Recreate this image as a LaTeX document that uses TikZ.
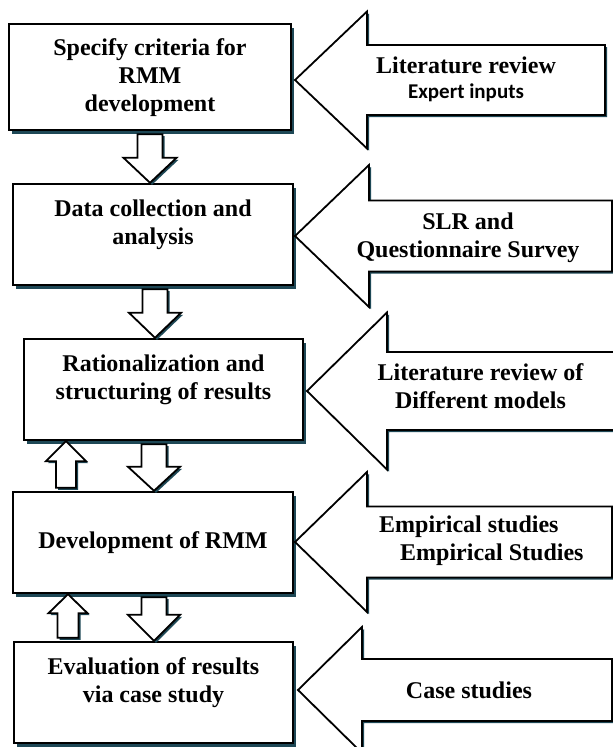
\documentclass[tikz,border=0pt]{standalone}
\usepackage{fontspec}
\setmainfont{Liberation Serif}
\newfontfamily\calibfont{Carlito}
\usetikzlibrary{calc,shadows}
\definecolor{shadowteal}{RGB}{30,72,86}

\begin{document}
\begin{tikzpicture}[x=1pt,y=-1pt,
    txt/.style={font=\fontsize{24}{28}\selectfont\bfseries, align=center, inner sep=0pt},
    stage/.style={draw, line width=2.4pt, fill=white,
        drop shadow={shadow xshift=3pt, shadow yshift=-4pt, fill=shadowteal, opacity=1}},
    feed/.style={draw, line width=1.8pt, fill=white, line join=miter,
        drop shadow={shadow xshift=2pt, shadow yshift=-2pt, fill=shadowteal, opacity=1}},
    fat/.style n args={3}{feed, to path={
        let \p1=(\tikztostart), \p2=(\tikztotarget), \n1={(\y2>\y1) ? 1 : -1} in
        (\x1-#1pt,\y1+\n1*3pt) -- (\x1-#1pt,\y2-\n1*#3pt) -- (\x1-#2pt,\y2-\n1*#3pt)
        -- (\x1,\y2) -- (\x1+#2pt,\y2-\n1*#3pt) -- (\x1+#1pt,\y2-\n1*#3pt)
        -- (\x1+#1pt,\y1+\n1*3pt) -- cycle}}]
    \useasboundingbox (0,0) rectangle (613,747);

    % Stage boxes
    \node[stage, minimum width=282pt, minimum height=106pt] (s1) at (150,77) {};
    \node[stage, minimum width=280pt, minimum height=101pt] (s2) at (153,234.5) {};
    \node[stage, minimum width=279pt, minimum height=101pt] (s3) at (163.5,389.5) {};
    \node[stage, minimum width=280pt, minimum height=101pt] (s4) at (153,542.5) {};
    \node[stage, minimum width=279pt, minimum height=101pt] (s5) at (153.5,692.5) {};

    % Stage texts
    \node[txt] (s1t) at (150,78) {Specify criteria for\\RMM\\development};
    \node[txt] (s2t) at (153,224.5) {Data collection and\\analysis};
    \node[txt] (s3t) at (163.5,380) {Rationalization and\\structuring of results};
    \node[txt] (s4t) at (153,543) {Development of RMM};
    \node[txt] (s5t) at (153.5,682.5) {Evaluation of results\\via case study};

    % Flow between stages (down = next step, up = feedback)
    \draw[fat={12.5}{26.5}{25}] (150,0 |- s1.south) to (150,0 |- s2.north);
    \draw[fat={12.5}{26}{25}] (155,0 |- s2.south) to (155,0 |- s3.north);
    \draw[fat={12.5}{26}{24}] (154,0 |- s3.south) to (154,0 |- s4.north);
    \draw[fat={12.5}{26}{26}] (154,0 |- s4.south) to (154,0 |- s5.north);
    \draw[fat={10}{20}{20}] (66,0 |- s4.north) to (66,0 |- s3.south);
    \draw[fat={10.5}{19.5}{19}] (68,0 |- s5.north) to (68,0 |- s4.south);

    % Inputs from the right (tip x/y, head back x, head half, shaft half, right end)
    \foreach \tx/\ty/\hx/\hh/\sh/\rx in {295/80/367/68.5/35/605, 295/236/369/71/35.5/612,
        307/391/387/78.5/39/630, 295/542/367/70/35.5/612, 298/690/362/63/31/612}
        \draw[feed] (\tx,\ty) -- (\hx,\ty-\hh) -- (\hx,\ty-\sh) -- (\rx,\ty-\sh)
            -- (\rx,\ty+\sh) -- (\hx,\ty+\sh) -- (\hx,\ty+\hh) -- cycle;

    % Input texts
    \node[txt] (in1) at (466,79.5) {Literature review\\[-3pt]{\calibfont\fontsize{21}{25}\selectfont Expert inputs}};
    \node[txt] (in2) at (468,237.5) {SLR and\\Questionnaire Survey};
    \node[txt] (in3) at (480.5,386.5) {Literature review of\\Different models};
    \node[txt, anchor=west, align=left] (in4) at (379,541) {Empirical studies\\\hspace*{21pt}Empirical Studies};
    \node[txt] (in5) at (469,690) {Case studies};
\end{tikzpicture}
\end{document}
